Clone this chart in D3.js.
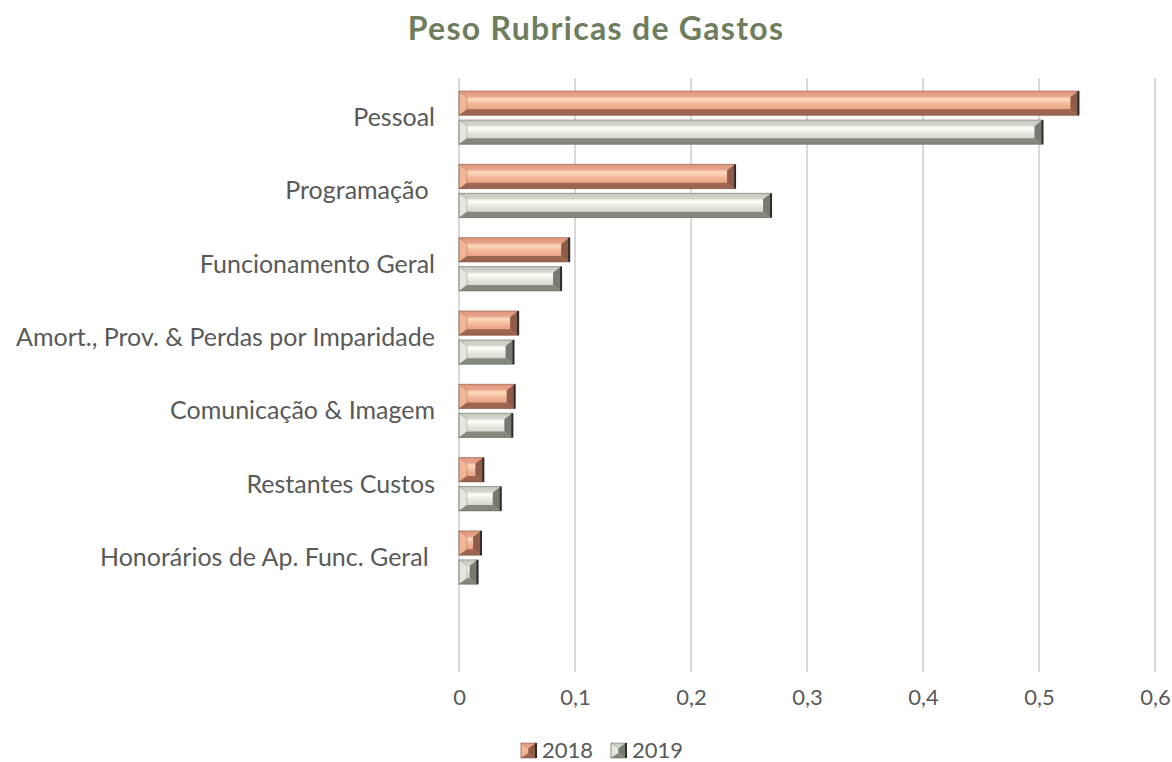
<!DOCTYPE html>
<html>
<head>
<meta charset="utf-8">
<script src="https://cdn.jsdelivr.net/npm/d3@7"></script>
<style>
  html, body { margin: 0; padding: 0; background: #ffffff; }
  svg { display: block; }
  text { font-family: Lato, "Open Sans", sans-serif; }
</style>
</head>
<body>
<svg id="chart" width="1172" height="762"></svg>
<script>
// Expense categories (last row intentionally blank, as in the source worksheet)
const categories = [
  "Pessoal",
  "Programação ",
  "Funcionamento Geral",
  "Amort., Prov. & Perdas por Imparidade",
  "Comunicação & Imagem",
  "Restantes Custos",
  "Honorários de Ap. Func. Geral ",
  ""
];
const seriesNames = ["2018", "2019"];
const values2018 = [0.534, 0.238, 0.095, 0.051, 0.048, 0.021, 0.019, null];
const values2019 = [0.503, 0.269, 0.088, 0.047, 0.046, 0.036, 0.016, null];
const tickValues = [0, 0.1, 0.2, 0.3, 0.4, 0.5, 0.6];
const tickLabels = ["0", "0,1", "0,2", "0,3", "0,4", "0,5", "0,6"];

const palette = {
  "2018": { base: "#e0937a", light: "#fdd8bd", mid: "#f2b596", dark: "#8e5c48", edge: "#6e4636" },
  "2019": { base: "#c3c9bd", light: "#fbfff8", mid: "#e3e8de", dark: "#757c6f", edge: "#4f554a" }
};

const svg = d3.select("#chart");
const defs = svg.append("defs");

// Gradients for the bevelled bar look
seriesNames.forEach(s => {
  const c = palette[s];
  const g = defs.append("linearGradient").attr("id", "face" + s)
    .attr("x1", 0).attr("y1", 0).attr("x2", 0).attr("y2", 1);
  g.append("stop").attr("offset", "0%").attr("stop-color", c.base);
  g.append("stop").attr("offset", "35%").attr("stop-color", c.light);
  g.append("stop").attr("offset", "55%").attr("stop-color", c.mid);
  g.append("stop").attr("offset", "100%").attr("stop-color", c.base);
});

const x = d3.scaleLinear().domain([0, 0.6]).range([459, 1155]);
const y = d3.scaleBand().domain(categories).range([81.5, 668]).paddingInner(0).paddingOuter(0);
const ySub = d3.scaleBand().domain(seriesNames).range([9.5, y.bandwidth() - 10.5]).paddingInner(0.16);

// Title
svg.append("text")
  .attr("x", 596).attr("y", 40)
  .attr("text-anchor", "middle")
  .attr("font-size", 32).attr("font-weight", 700)
  .attr("letter-spacing", 1.3)
  .attr("fill", "#6e7d5e")
  .text("Peso Rubricas de Gastos");

// Vertical gridlines
svg.append("g").selectAll("line").data(tickValues).join("line")
  .attr("x1", d => x(d)).attr("x2", d => x(d))
  .attr("y1", 78).attr("y2", 672)
  .attr("stroke", "#d9d9d9").attr("stroke-width", 2);

// X axis labels
const xAxis = d3.axisBottom(x).tickValues(tickValues)
  .tickFormat((d, i) => tickLabels[i]).tickSize(0).tickPadding(0);
const gx = svg.append("g").attr("transform", "translate(0,689)").call(xAxis);
gx.select(".domain").remove();
gx.selectAll("text")
  .attr("font-family", "Lato, sans-serif")
  .attr("font-size", 22).attr("fill", "#595959").attr("dy", "0.71em");

// Y axis labels
const yAxis = d3.axisLeft(y).tickSize(0).tickPadding(0);
const gy = svg.append("g").attr("transform", "translate(435,0)").call(yAxis);
gy.select(".domain").remove();
gy.selectAll("text")
  .attr("font-family", "Lato, sans-serif")
  .attr("font-size", 25).attr("fill", "#595959")
  .style("white-space", "pre");

// Bevelled bar drawing
function bevelBar(g, x0, y0, w, h, s) {
  const c = palette[s];
  const b = Math.min(8, w / 2);
  const bt = Math.min(6, h / 3);
  g.append("rect").attr("x", x0).attr("y", y0).attr("width", w).attr("height", h)
    .attr("fill", "url(#face" + s + ")");
  // top bevel
  g.append("polygon")
    .attr("points", [[x0, y0], [x0 + w, y0], [x0 + w - b, y0 + bt], [x0 + b, y0 + bt]].join(" "))
    .attr("fill", c.base).attr("opacity", 0.55);
  // bottom bevel
  g.append("polygon")
    .attr("points", [[x0, y0 + h], [x0 + w, y0 + h], [x0 + w - b, y0 + h - bt], [x0 + b, y0 + h - bt]].join(" "))
    .attr("fill", c.dark).attr("opacity", 0.85);
  // left bevel
  g.append("polygon")
    .attr("points", [[x0, y0], [x0 + b, y0 + bt], [x0 + b, y0 + h - bt], [x0, y0 + h]].join(" "))
    .attr("fill", c.mid).attr("stroke", c.edge).attr("stroke-opacity", 0.35).attr("stroke-width", 0.8);
  // right bevel
  g.append("polygon")
    .attr("points", [[x0 + w, y0], [x0 + w - b, y0 + bt], [x0 + w - b, y0 + h - bt], [x0 + w, y0 + h]].join(" "))
    .attr("fill", c.dark);
  // outline
  g.append("rect").attr("x", x0).attr("y", y0).attr("width", w).attr("height", h)
    .attr("fill", "none").attr("stroke", c.edge).attr("stroke-opacity", 0.45).attr("stroke-width", 1);
  g.append("line").attr("x1", x0 + w).attr("x2", x0 + w).attr("y1", y0).attr("y2", y0 + h)
    .attr("stroke", "#2b2b2b").attr("stroke-width", 2);
}

const rows = categories.map((cat, i) => ({ cat, v: { "2018": values2018[i], "2019": values2019[i] } }));
const barsG = svg.append("g");
rows.forEach(r => {
  seriesNames.forEach(s => {
    const v = r.v[s];
    if (v == null) return;
    const y0 = y(r.cat) + ySub(s);
    bevelBar(barsG, x(0), y0, x(v) - x(0), ySub.bandwidth(), s);
  });
});

// Legend
const legend = svg.append("g");
const legendItems = [{ s: "2018", x: 521 }, { s: "2019", x: 611 }];
legendItems.forEach(it => {
  bevelBar(legend, it.x, 743, 15, 15, it.s);
  legend.append("text")
    .attr("x", it.x + 21).attr("y", 750).attr("dy", "0.35em")
    .attr("font-size", 22).attr("fill", "#595959")
    .text(it.s);
});
</script>
</body>
</html>
